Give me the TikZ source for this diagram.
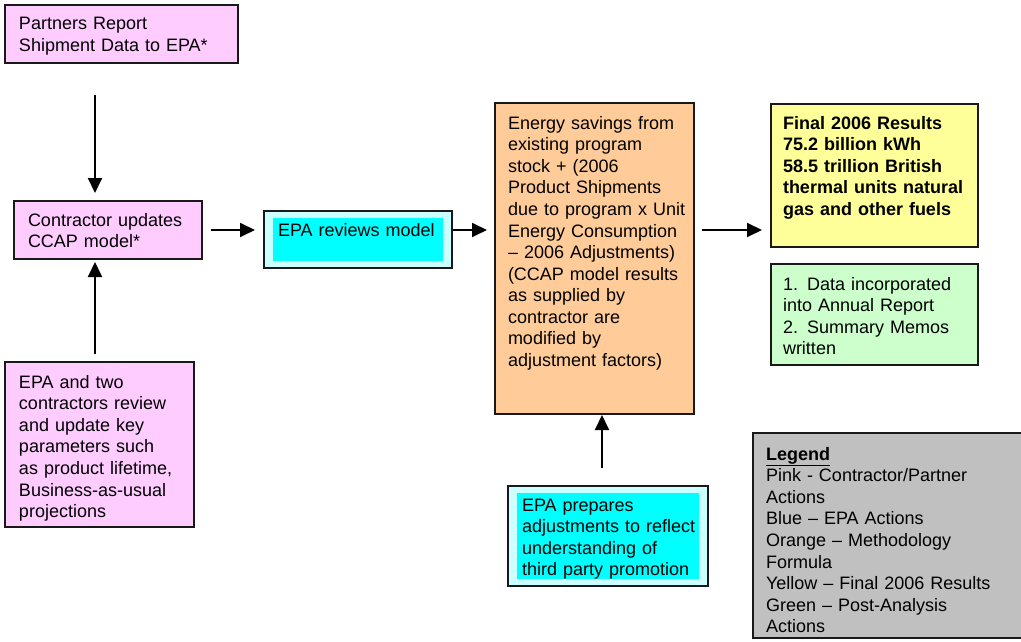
\documentclass[tikz,border=0pt]{standalone}
\usepackage{fontspec}
\setmainfont{Liberation Sans}
\usetikzlibrary{arrows.meta,calc}
\definecolor{pinkf}{HTML}{FFCCFF}
\definecolor{lcyan}{HTML}{CCFFFF}
\definecolor{cyanf}{HTML}{00FFFF}
\definecolor{orangef}{HTML}{FFCC99}
\definecolor{yellowf}{HTML}{FFFF99}
\definecolor{greenf}{HTML}{CCFFCC}
\definecolor{grayf}{HTML}{C0C0C0}
\begin{document}
\begin{tikzpicture}[x=1pt,y=-1pt,
  box/.style={draw=black!90, line width=2pt, anchor=north west, inner sep=0pt, outer sep=0pt},
  fillbox/.style={anchor=north west, inner sep=0pt, outer sep=0pt},
  txt/.style={anchor=base west, inner sep=0pt, outer sep=0pt, align=left, text width=250pt, font=\fontsize{18}{21.6}\selectfont},
  arr/.style={line width=2pt, -{Triangle[length=15pt,width=14pt]}}]
\useasboundingbox (0,0) rectangle (1021,642);
\clip (0,0) rectangle (1021,642);
% boxes
\node[box, fill=pinkf, minimum width=233pt, minimum height=58pt] (partners) at (5,5) {};
\node[box, fill=pinkf, minimum width=188pt, minimum height=58pt] (contractor) at (14,201) {};
\node[box, fill=lcyan, minimum width=188pt, minimum height=57pt] (reviews) at (264,211) {};
\node[fillbox, fill=cyanf, minimum width=170pt, minimum height=43pt] (reviewsin) at (273,218) {};
\node[box, fill=orangef, minimum width=199pt, minimum height=311pt] (orange) at (495,103) {};
\node[box, fill=yellowf, minimum width=207pt, minimum height=143pt] (yellow) at (771,104) {};
\node[box, fill=greenf, minimum width=207pt, minimum height=101pt] (green) at (771,264) {};
\node[box, fill=lcyan, minimum width=200pt, minimum height=100pt] (prep) at (508,486) {};
\node[fillbox, fill=cyanf, minimum width=182pt, minimum height=86pt] (prepin) at (517,493) {};
\node[box, fill=grayf, minimum width=280pt, minimum height=205pt] (legend) at (753,433) {};
\node[box, fill=pinkf, minimum width=189pt, minimum height=165pt] (epa2) at (5,362) {};
% texts
\node[txt] (tpartners) at (19,30) {Partners Report\\Shipment Data to EPA*};
\node[txt] (tcontractor) at (28,226) {Contractor updates\\CCAP model*};
\node[txt] (treviews) at (278,236) {EPA reviews model};
\node[txt] (torange) at (508,129) {Energy savings from\\existing program\\stock + (2006\\Product Shipments\\due to program x Unit\\Energy Consumption\\– 2006 Adjustments)\\(CCAP model results\\as supplied by\\contractor are\\modified by\\adjustment factors)};
\node[txt, font=\fontsize{18}{21.6}\selectfont\bfseries] (tyellow) at (783,129) {Final 2006 Results\\75.2 billion kWh\\58.5 trillion British\\thermal units natural\\gas and other fuels};
\node[txt] (tgreen) at (783,290) {1.\hspace{9pt}Data incorporated\\into Annual Report\\2.\hspace{9pt}Summary Memos\\written};
\node[txt] (tprep) at (522,511) {EPA prepares\\adjustments to reflect\\understanding of\\third party promotion};
\node[txt] (tlegend) at (766,460) {\underline{\textbf{Legend}}\\Pink - Contractor/Partner\\Actions\\Blue – EPA Actions\\Orange – Methodology\\Formula\\Yellow – Final 2006 Results\\Green – Post-Analysis\\Actions};
\node[txt] (tepa2) at (19,388) {EPA and two\\contractors review\\and update key\\parameters such\\as product lifetime,\\Business-as-usual\\projections};
% arrows
\draw[arr] ([xshift=90pt,yshift=-32pt]partners.south west) -- ([xshift=81pt,yshift=8pt]contractor.north west);
\draw[arr] ([xshift=9pt]contractor.east) -- ([xshift=-9pt]contractor.east -| reviews.west);
\draw[arr] ([xshift=1pt]reviews.east |- contractor.east) -- ([xshift=-8pt]orange.west |- contractor.east);
\draw[arr] ([xshift=8pt]orange.east |- contractor.east) -- ([xshift=-9pt]yellow.west |- contractor.east);
\draw[arr] ([xshift=-6pt,yshift=18pt]prep.north) -- ([xshift=-6pt,yshift=-1pt]prep.north |- orange.south);
\draw[arr] ([xshift=90pt,yshift=8pt]epa2.north west) -- ([xshift=81pt,yshift=-3pt]contractor.south west);
\end{tikzpicture}
\end{document}
